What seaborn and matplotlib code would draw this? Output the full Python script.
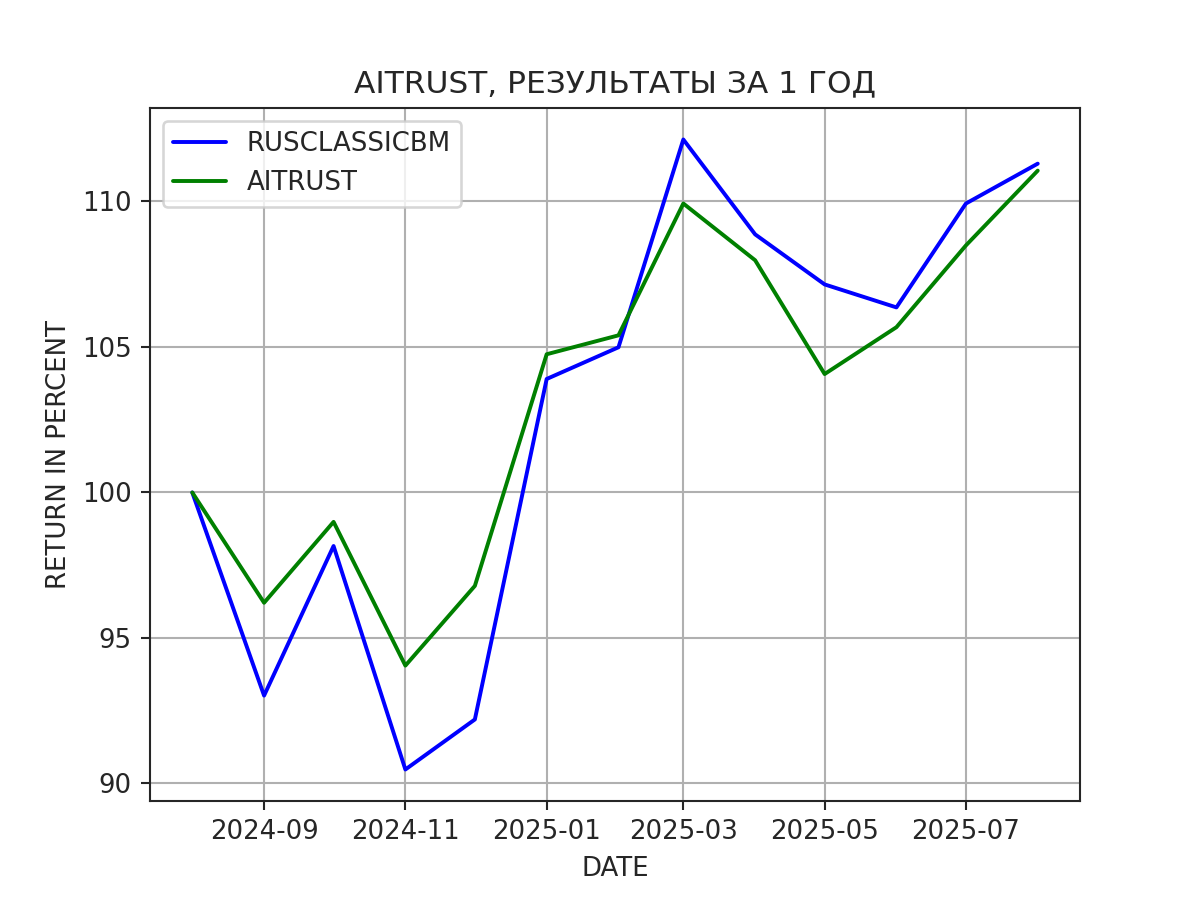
import pandas as pd
import seaborn as sns
import matplotlib
matplotlib.use("Agg")
from matplotlib import pyplot as plt

dates = pd.date_range("2024-08-01", "2025-08-01", freq="MS")
rusclassicbm = [100.0, 93.02, 98.16, 90.48, 92.2, 103.9, 104.99, 112.13,
                108.87, 107.15, 106.36, 109.93, 111.3]
aitrust = [100.0, 96.21, 98.99, 94.05, 96.79, 104.75, 105.4, 109.93,
           107.98, 104.07, 105.68, 108.49, 111.06]

sns.set_style("ticks")
plt.rcParams['font.family'] = ['DejaVu Sans']

fig, ax = plt.subplots(figsize=(6.4, 4.8), dpi=187.5)
sns.lineplot(x=dates, y=rusclassicbm, color="blue", label="RUSCLASSICBM", ax=ax)
sns.lineplot(x=dates, y=aitrust, color="green", label="AITRUST", ax=ax)
ax.set_title("AITRUST, РЕЗУЛЬТАТЫ ЗА 1 ГОД")
ax.set_xlabel("DATE")
ax.set_ylabel("RETURN IN PERCENT")
ax.set_yticks([90, 95, 100, 105, 110])
ax.set_xticks(pd.to_datetime(["2024-09-01", "2024-11-01", "2025-01-01",
                              "2025-03-01", "2025-05-01", "2025-07-01"]))
ax.xaxis.set_major_formatter(matplotlib.dates.DateFormatter("%Y-%m"))
ax.grid(True, color="#b0b0b0")
ax.legend(loc="upper left")
fig.savefig("out.png")
